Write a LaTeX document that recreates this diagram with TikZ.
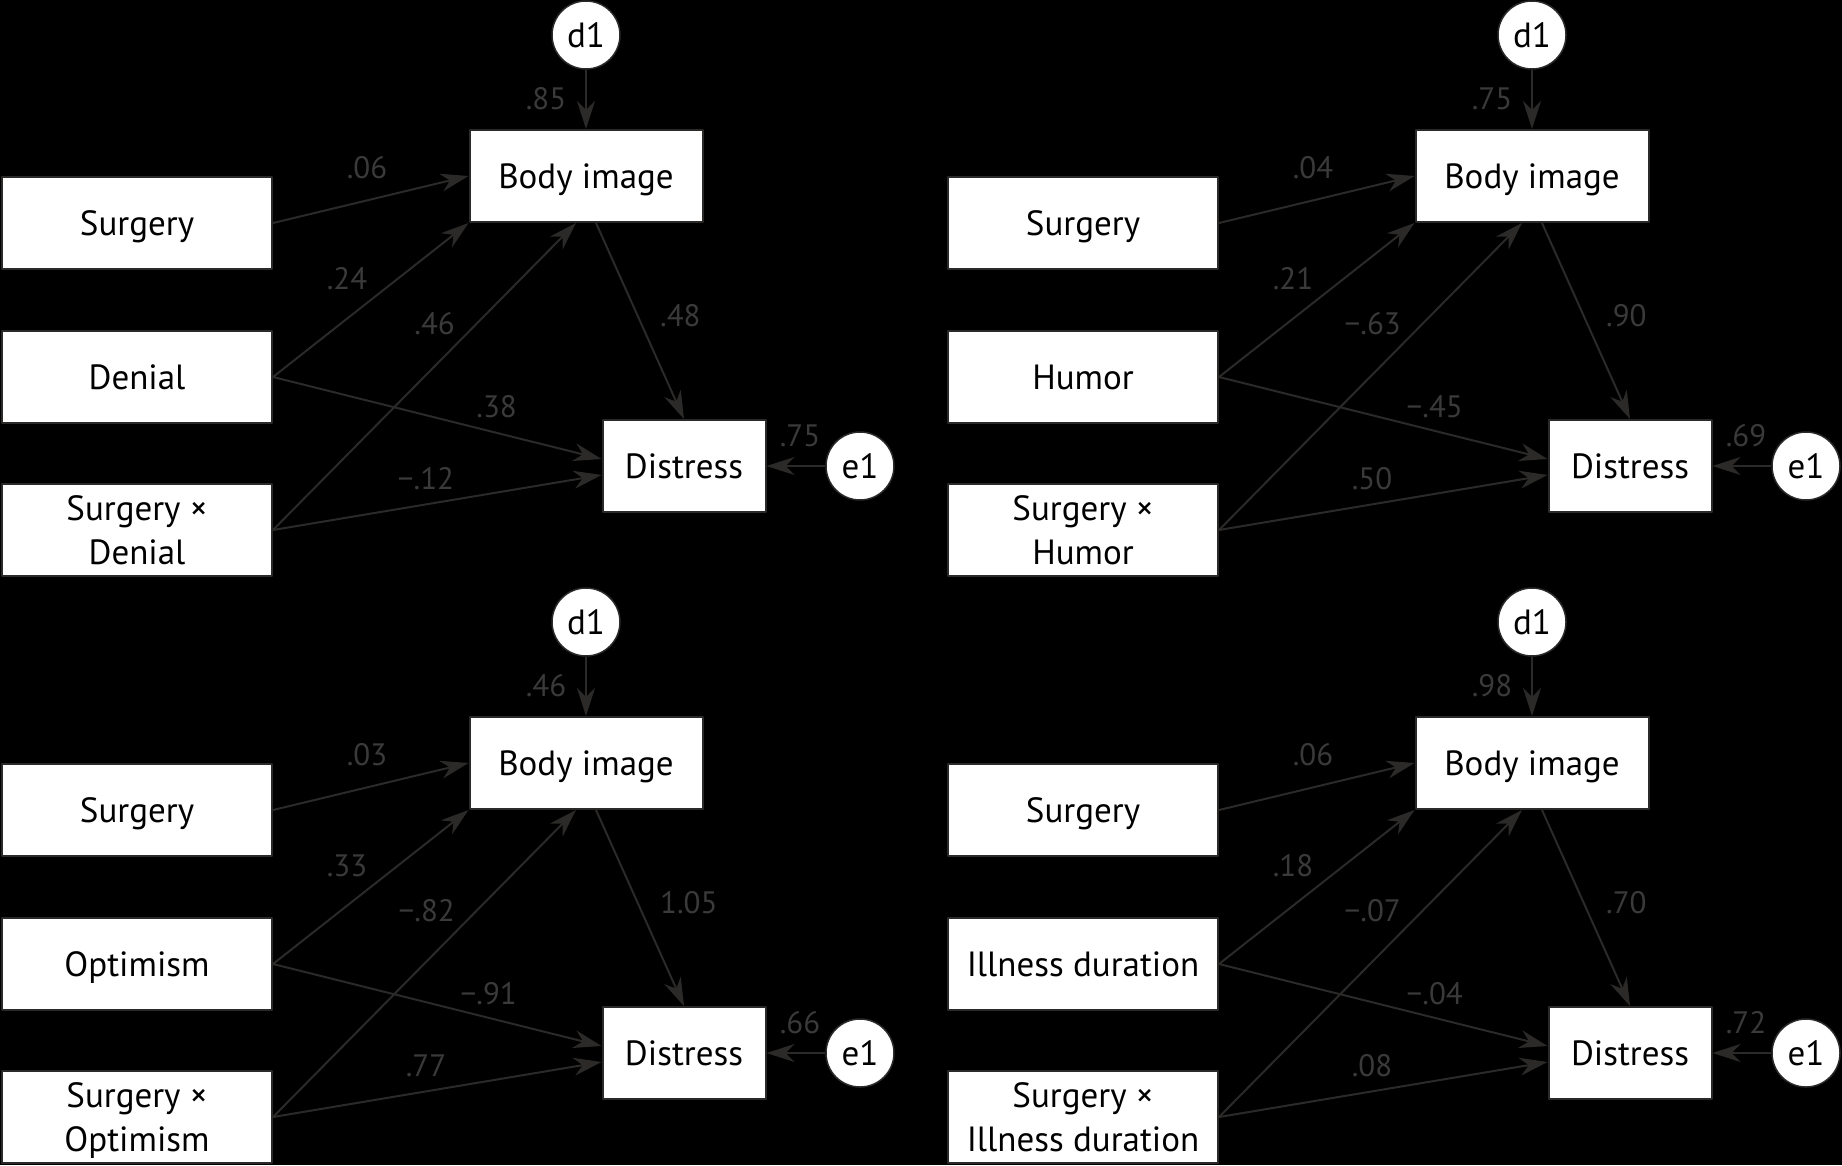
\documentclass[tikz,border=0pt]{standalone}
\usepackage{fontspec}
\setmainfont{PT Sans}
\usetikzlibrary{arrows.meta}
\definecolor{ink}{HTML}{2B2A29}
\definecolor{lbl}{HTML}{3A3A3A}
\tikzset{
  var/.style={draw=ink, line width=2pt, fill=white, minimum height=92pt, inner sep=0pt, align=center, font=\fontsize{35}{44}\selectfont, text height=24pt, text depth=0pt},
  twoline/.style={text height=68pt},
  err/.style={circle, draw=ink, line width=1.5pt, fill=white, minimum size=68pt, inner sep=0pt, font=\fontsize{35}{44}\selectfont, text height=24pt, text depth=0pt},
  arr/.style={-{Stealth[length=28pt,width=18pt,inset=9pt]}, draw=ink, line width=2pt},
  coef/.style={text=lbl, font=\fontsize{31}{32}\selectfont, inner sep=0pt},
}
\begin{document}
\begin{tikzpicture}[x=1pt,y=-1pt, line join=round]
\useasboundingbox (0,0) rectangle (1842,1165);
\fill[black] (0,0) rectangle (1842,1165);
\foreach \ox/\oy/\p/\mod/\cd/\cs/\cm/\ci/\cb/\cmd/\cid/\ce in {
    0/0/a/Denial/.85/.06/.24/.46/.48/.38/−.12/.75,
    946/0/b/Humor/.75/.04/.21/−.63/.90/−.45/.50/.69,
    0/587/c/Optimism/.46/.03/.33/−.82/1.05/−.91/.77/.66,
    946/587/d/Illness duration/.98/.06/.18/−.07/.70/−.04/.08/.72}{
  \begin{scope}[shift={(\ox,\oy)}]
    % predictors
    \node[var, minimum width=270pt] (\p-sur) at (137,223) {Surgery};
    \node[var, minimum width=270pt] (\p-mod) at (137,377) {\mod};
    \node[var, twoline, minimum width=270pt] (\p-int) at (137,530) {Surgery ×\\\mod};
    % mediator, outcome and errors
    \node[var, minimum width=233pt] (\p-body) at (586,176) {Body image};
    \node[var, minimum width=163pt] (\p-dis) at (684,466) {Distress};
    \node[err] (\p-d1) at (586,35) {d1};
    \node[err] (\p-e1) at (860,466) {e1};
    % paths
    \draw[arr] (\p-d1) -- (\p-body);
    \draw[arr] (\p-e1) -- (\p-dis);
    \draw[arr] (\p-sur.east) -- (\p-body.west);
    \draw[arr] (\p-mod.east) -- (\p-body.south west);
    \draw[arr] (\p-mod.east) -- ([yshift=7pt]\p-dis.west);
    \draw[arr] (\p-int.east) -- ([xshift=-10pt]\p-body.south);
    \draw[arr] (\p-int.east) -- ([yshift=-9pt]\p-dis.west);
    \draw[arr] ([xshift=10pt]\p-body.south) -- (\p-dis.north);
    % coefficients
    \node[coef] (\p-lcd) at (546,99) {\cd};
    \node[coef] (\p-lcs) at (367,168) {\cs};
    \node[coef] (\p-lcm) at (347,279) {\cm};
    \node[coef, anchor=east] (\p-lci) at (455,324) {\ci};
    \node[coef, anchor=west] (\p-lcb) at (660,316) {\cb};
    \node[coef, anchor=east] (\p-lcmd) at (517,407) {\cmd};
    \node[coef] (\p-lcid) at (426,479) {\cid};
    \node[coef] (\p-lce) at (800,436) {\ce};
  \end{scope}}
\end{tikzpicture}
\end{document}
